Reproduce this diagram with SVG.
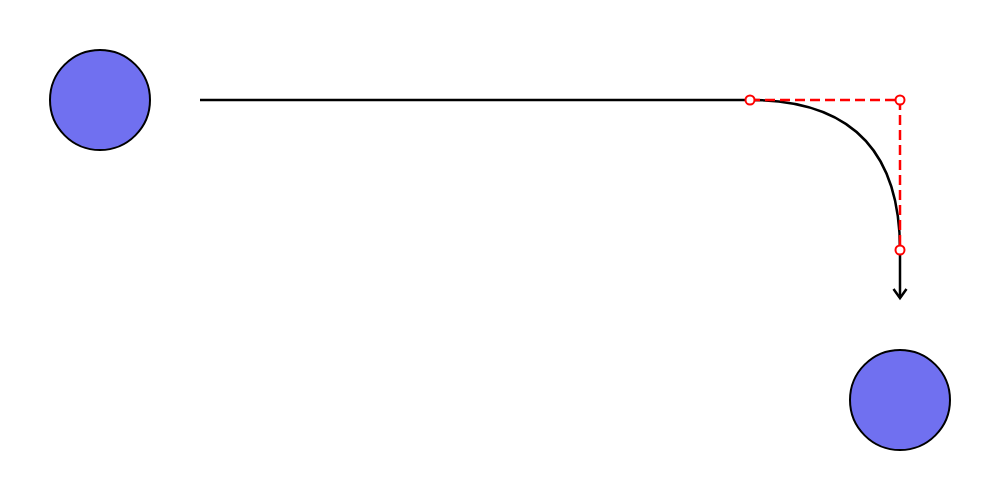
<svg xmlns="http://www.w3.org/2000/svg" width="1000" height="500" viewBox="0 0 1000 500">
<style>
.node{fill:#7070f0;stroke:#000;stroke-width:2}
.edge{fill:none;stroke:#000;stroke-width:2.5}
.guide{fill:none;stroke:#f00;stroke-width:2.5;stroke-dasharray:10,5}
.pt{fill:#fff;stroke:#f00;stroke-width:2}
</style>
<defs>
<marker id="arrow" markerUnits="userSpaceOnUse" markerWidth="20" markerHeight="20" refX="0" refY="0" orient="auto" viewBox="-10 -10 20 20" overflow="visible">
<path d="M-9,-6.5 L0,0 L-9,6.5" fill="none" stroke="#000" stroke-width="2.5"/>
</marker>
</defs>
<rect width="1000" height="500" fill="#fff"/>
<g id="node-a"><circle class="node" cx="100" cy="100" r="50"/></g>
<g id="node-b"><circle class="node" cx="900" cy="400" r="50"/></g>
<g id="connectors">
<path class="edge" d="M200,100 L750,100 Q900,100 900,250 L900,298" marker-end="url(#arrow)"/>
<path class="guide" d="M750,100 L900,100 L900,250"/>
<circle class="pt" cx="750" cy="100" r="4.5"/>
<circle class="pt" cx="900" cy="100" r="4.5"/>
<circle class="pt" cx="900" cy="250" r="4.5"/>
</g>
</svg>
